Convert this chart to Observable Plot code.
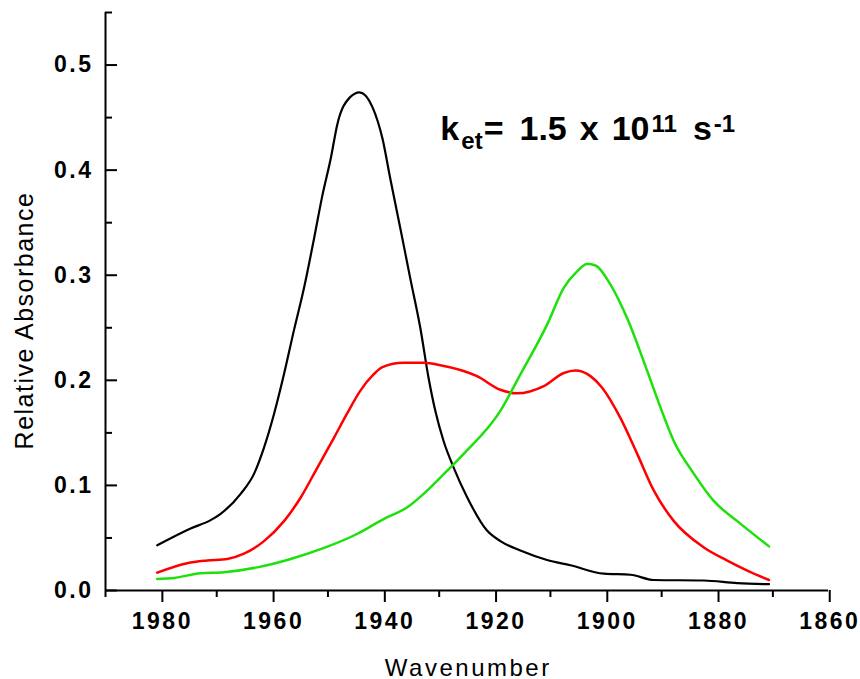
<!DOCTYPE html>
<html>
<head>
<meta charset="utf-8">
<script src="https://cdn.jsdelivr.net/npm/d3@7"></script>
<script src="https://cdn.jsdelivr.net/npm/@observablehq/plot@0.6"></script>
<style>
  html, body { margin: 0; padding: 0; background: #fff; }
  #chart svg { display: block; }
</style>
</head>
<body>
<div id="chart"></div>
<script>
// IR spectra: relative absorbance vs wavenumber (cm^-1), three time slices
const blackWn = [1980.7, 1974.7, 1971.1, 1969.3, 1965.7, 1963.3, 1961.5, 1959.7, 1957.9, 1956.1, 1954.3, 1952.5, 1951.0, 1949.5, 1948.3, 1946.1, 1944.3, 1942.0, 1940.2, 1938.8, 1937.0, 1935.2, 1933.4, 1931.9, 1930.7, 1929.2, 1927.4, 1925.0, 1921.4, 1919.0, 1915.4, 1910.6, 1906.4, 1900.4, 1895.6, 1891.4, 1882.4, 1876.4, 1870.7];
const blackAbs = [0.043, 0.059, 0.067, 0.073, 0.092, 0.111, 0.136, 0.168, 0.206, 0.248, 0.288, 0.335, 0.376, 0.411, 0.444, 0.469, 0.474, 0.460, 0.430, 0.392, 0.345, 0.297, 0.250, 0.202, 0.171, 0.142, 0.117, 0.089, 0.057, 0.047, 0.038, 0.029, 0.024, 0.016, 0.015, 0.010, 0.0095, 0.007, 0.006];

const redWn = [1980.7, 1975.3, 1971.7, 1968.1, 1965.1, 1961.5, 1957.9, 1954.9, 1951.9, 1948.9, 1946.5, 1944.2, 1941.8, 1940.2, 1936.4, 1932.8, 1929.8, 1923.2, 1919.0, 1916.0, 1911.2, 1907.6, 1905.5, 1902.8, 1900.7, 1897.4, 1894.4, 1891.4, 1887.8, 1882.4, 1878.2, 1874.6, 1870.7];
const redAbs = [0.017, 0.026, 0.0285, 0.030, 0.035, 0.047, 0.066, 0.0885, 0.117, 0.1455, 0.169, 0.190, 0.2056, 0.2125, 0.2166, 0.2166, 0.2144, 0.204, 0.191, 0.1876, 0.1945, 0.207, 0.2094, 0.204, 0.193, 0.164, 0.130, 0.095, 0.066, 0.041, 0.0285, 0.019, 0.010];

const greenWn = [1980.7, 1977.7, 1972.9, 1968.7, 1962.7, 1956.7, 1950.7, 1944.7, 1940.0, 1935.8, 1932.8, 1929.8, 1925.6, 1919.0, 1915.4, 1910.6, 1907.6, 1905.2, 1903.4, 1901.9, 1899.2, 1896.2, 1892.6, 1890.2, 1887.8, 1884.2, 1880.6, 1876.4, 1870.7];
const greenAbs = [0.011, 0.012, 0.0164, 0.0174, 0.022, 0.030, 0.0405, 0.054, 0.068, 0.079, 0.092, 0.1075, 0.130, 0.171, 0.2056, 0.253, 0.288, 0.3036, 0.3106, 0.3093, 0.291, 0.259, 0.209, 0.174, 0.142, 0.111, 0.085, 0.066, 0.042];

// Axis ticks
const xMajor = [1980, 1960, 1940, 1920, 1900, 1880, 1860];
const xMinor = [1990, 1970, 1950, 1930, 1910, 1890, 1870];
const yMajor = [0, 0.1, 0.2, 0.3, 0.4, 0.5];
const yMinor = [0.05, 0.15, 0.25, 0.35, 0.45, 0.55];

const xLabel = "Wavenumber";
const yLabel = "Relative Absorbance";

const series = [
  {wn: blackWn, abs: blackAbs, color: "#000000", width: 2.2},
  {wn: redWn, abs: redAbs, color: "#ff0000", width: 2.5},
  {wn: greenWn, abs: greenAbs, color: "#1ee00a", width: 2.5}
];

const toRows = (s) => s.wn.map((w, i) => ({wn: w, abs: s.abs[i]}));

const W = 860, H = 679;
const mL = 105, mR = 32, mT = 12, mB = 89;
const frameW = W - mL - mR;
const font = "'Liberation Sans', Arial, Helvetica, sans-serif";

// Rate-constant annotation with sub/superscripts, anchored in data space
const noteAt = {wn: 1929.7, abs: 0.428};
function rateNote(index, scales) {
  const x0 = scales.x(noteAt.wn), y0 = scales.y(noteAt.abs);
  const t = d3.create("svg:text")
    .attr("x", x0).attr("y", y0)
    .attr("text-anchor", "start")
    .attr("font-family", font)
    .attr("font-weight", "bold")
    .attr("font-size", 34)
    .attr("fill", "#000");
  t.append("tspan").text("k");
  t.append("tspan").attr("font-size", 24).attr("dx", 2).attr("dy", 9).text("et");
  t.append("tspan").attr("dx", 1).attr("dy", -9).text("=");
  t.append("tspan").attr("dx", 16).text("1.5");
  t.append("tspan").attr("dx", 13).text("x");
  t.append("tspan").attr("dx", 13).text("10");
  t.append("tspan").attr("font-size", 24).attr("dx", 2).attr("dy", -8).text("11");
  t.append("tspan").attr("dx", 16).attr("dy", 8).text("s");
  t.append("tspan").attr("font-size", 24).attr("dx", 2).attr("dy", -8).text("-1");
  return t.node();
}

const chart = Plot.plot({
  width: W,
  height: H,
  marginLeft: mL,
  marginRight: mR,
  marginTop: mT,
  marginBottom: mB,
  style: {fontFamily: font, color: "#000", background: "#fff", overflow: "visible"},
  x: {domain: [1990, 1860], axis: null},
  y: {domain: [0, 0.55], axis: null},
  marks: [
    // x axis: outward ticks with labels
    Plot.axisX(xMajor, {anchor: "bottom", tickSize: 12, tickPadding: 10, dx: 1.25, strokeWidth: 2, fontSize: 23, fontWeight: "bold", label: null, tickFormat: d3.format("d")}),
    Plot.axisX(xMinor, {anchor: "bottom", tickSize: 7, strokeWidth: 2, tickFormat: () => "", label: null}),
    // y axis: inward ticks, labels on the left
    Plot.tickY(yMajor, {y: d => d, stroke: "#000", strokeWidth: 2, insetRight: frameW - 12}),
    Plot.tickY(yMinor, {y: d => d, stroke: "#000", strokeWidth: 2, insetRight: frameW - 7}),
    Plot.axisY(yMajor, {anchor: "left", tickSize: 0, tickPadding: 12, fontSize: 23, fontWeight: "bold", label: null, tickFormat: d3.format(".1f")}),
    Plot.ruleX([1990], {y1: 0, y2: 0.55, stroke: "#000", strokeWidth: 2}),
    Plot.ruleY([0], {x1: 1990, x2: 1860, stroke: "#000", strokeWidth: 2}),
    // spectra
    ...series.map(s => Plot.line(toRows(s), {x: "wn", y: "abs", stroke: s.color, strokeWidth: s.width, curve: "monotone-x"})),
    // axis titles
    Plot.text([xLabel], {frameAnchor: "bottom", dx: 1.25, dy: 85, fontSize: 24, lineAnchor: "bottom", textAnchor: "middle", text: d => d, fill: "#000"}),
    Plot.text([yLabel], {frameAnchor: "left", dx: -81, dy: 19, rotate: -90, fontSize: 25, textAnchor: "middle", text: d => d, fill: "#000"}),
    rateNote
  ]
});

// Wider tracking for the axis lettering
const spacing = (sel, px) => chart.querySelectorAll(sel).forEach(el => el.style.letterSpacing = px);
spacing('g[aria-label="x-axis tick label"] text', "2.5px");
spacing('g[aria-label="y-axis tick label"] text', "2.5px");
chart.querySelectorAll("text").forEach(el => {
  if (el.textContent === xLabel) el.style.letterSpacing = "2.5px";
  if (el.textContent === yLabel) el.style.letterSpacing = "1.5px";
});

document.getElementById("chart").appendChild(chart);
</script>
</body>
</html>
